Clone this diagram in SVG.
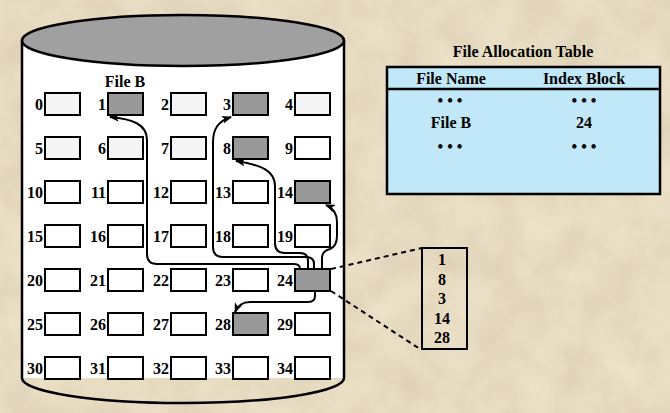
<svg xmlns="http://www.w3.org/2000/svg" width="670" height="413" viewBox="0 0 670 413">
<style>
.t{font-family:"Liberation Serif","Times New Roman",serif;font-weight:bold;font-size:16px;fill:#000}
.lbl{text-anchor:end}
.c{text-anchor:middle}
.blk{stroke:#000;stroke-width:2;fill:#fff}
.lt{fill:#f5f5f5}
.g{fill:#999}
.con{fill:none;stroke:#000;stroke-width:2;marker-end:url(#ah)}
.dash{fill:none;stroke:#000;stroke-width:2;stroke-dasharray:5 4}
</style>
<defs>
<marker id="ah" markerUnits="userSpaceOnUse" markerWidth="10" markerHeight="8" refX="9" refY="4" orient="auto">
<path d="M0,0 L10,4 L0,8 L2.5,4 z" fill="#000"/>
</marker>
<filter id="paper" x="0" y="0" width="100%" height="100%">
<feTurbulence type="fractalNoise" baseFrequency="0.025" numOctaves="4" seed="3" result="n"/>
<feColorMatrix in="n" type="matrix" values="0 0 0 0 0.55  0 0 0 0 0.45  0 0 0 0 0.3  0 0 0 0.6 -0.12" result="c"/>
<feComposite in="c" in2="SourceGraphic" operator="over"/>
</filter>
</defs>
<rect x="0" y="0" width="670" height="413" fill="#ede2c8" filter="url(#paper)"/>

<g id="disk">
<rect x="22" y="40" width="322" height="338" fill="#fff"/>
<path d="M22,40 V378 A161,25 0 0 0 344,378 V40" fill="none" stroke="#000" stroke-width="2.5"/>
<ellipse cx="183" cy="40.5" rx="161" ry="25.5" fill="#a0a0a0" stroke="#000" stroke-width="2.5"/>
</g>

<text id="fileb-label" class="t c" x="125" y="87">File B</text>

<g id="blocks">
<g id="b0"><rect class="blk lt" x="45" y="93" width="35" height="22"/><text class="t lbl" x="43" y="110">0</text></g>
<g id="b1"><rect class="blk g" x="108" y="93" width="35" height="22"/><text class="t lbl" x="106" y="110">1</text></g>
<g id="b2"><rect class="blk lt" x="171" y="93" width="35" height="22"/><text class="t lbl" x="169" y="110">2</text></g>
<g id="b3"><rect class="blk g" x="233" y="93" width="35" height="22"/><text class="t lbl" x="231" y="110">3</text></g>
<g id="b4"><rect class="blk lt" x="295" y="93" width="35" height="22"/><text class="t lbl" x="293" y="110">4</text></g>

<g id="b5"><rect class="blk lt" x="45" y="137" width="35" height="22"/><text class="t lbl" x="43" y="154">5</text></g>
<g id="b6"><rect class="blk lt" x="108" y="137" width="35" height="22"/><text class="t lbl" x="106" y="154">6</text></g>
<g id="b7"><rect class="blk lt" x="171" y="137" width="35" height="22"/><text class="t lbl" x="169" y="154">7</text></g>
<g id="b8"><rect class="blk g" x="233" y="137" width="35" height="22"/><text class="t lbl" x="231" y="154">8</text></g>
<g id="b9"><rect class="blk" x="295" y="137" width="35" height="22"/><text class="t lbl" x="293" y="154">9</text></g>

<g id="b10"><rect class="blk" x="45" y="181" width="35" height="22"/><text class="t lbl" x="43" y="198">10</text></g>
<g id="b11"><rect class="blk" x="108" y="181" width="35" height="22"/><text class="t lbl" x="106" y="198">11</text></g>
<g id="b12"><rect class="blk" x="171" y="181" width="35" height="22"/><text class="t lbl" x="169" y="198">12</text></g>
<g id="b13"><rect class="blk" x="233" y="181" width="35" height="22"/><text class="t lbl" x="231" y="198">13</text></g>
<g id="b14"><rect class="blk g" x="295" y="181" width="35" height="22"/><text class="t lbl" x="293" y="198">14</text></g>

<g id="b15"><rect class="blk" x="45" y="225" width="35" height="22"/><text class="t lbl" x="43" y="242">15</text></g>
<g id="b16"><rect class="blk" x="108" y="225" width="35" height="22"/><text class="t lbl" x="106" y="242">16</text></g>
<g id="b17"><rect class="blk" x="171" y="225" width="35" height="22"/><text class="t lbl" x="169" y="242">17</text></g>
<g id="b18"><rect class="blk" x="233" y="225" width="35" height="22"/><text class="t lbl" x="231" y="242">18</text></g>
<g id="b19"><rect class="blk" x="295" y="225" width="35" height="22"/><text class="t lbl" x="293" y="242">19</text></g>

<g id="b20"><rect class="blk" x="45" y="269" width="35" height="22"/><text class="t lbl" x="43" y="286">20</text></g>
<g id="b21"><rect class="blk" x="108" y="269" width="35" height="22"/><text class="t lbl" x="106" y="286">21</text></g>
<g id="b22"><rect class="blk" x="171" y="269" width="35" height="22"/><text class="t lbl" x="169" y="286">22</text></g>
<g id="b23"><rect class="blk" x="233" y="269" width="35" height="22"/><text class="t lbl" x="231" y="286">23</text></g>
<g id="b24"><rect class="blk g" x="295" y="269" width="35" height="22"/><text class="t lbl" x="293" y="286">24</text></g>

<g id="b25"><rect class="blk" x="45" y="313" width="35" height="22"/><text class="t lbl" x="43" y="330">25</text></g>
<g id="b26"><rect class="blk" x="108" y="313" width="35" height="22"/><text class="t lbl" x="106" y="330">26</text></g>
<g id="b27"><rect class="blk" x="171" y="313" width="35" height="22"/><text class="t lbl" x="169" y="330">27</text></g>
<g id="b28"><rect class="blk g" x="233" y="313" width="35" height="22"/><text class="t lbl" x="231" y="330">28</text></g>
<g id="b29"><rect class="blk" x="295" y="313" width="35" height="22"/><text class="t lbl" x="293" y="330">29</text></g>

<g id="b30"><rect class="blk" x="45" y="357" width="35" height="22"/><text class="t lbl" x="43" y="374">30</text></g>
<g id="b31"><rect class="blk" x="108" y="357" width="35" height="22"/><text class="t lbl" x="106" y="374">31</text></g>
<g id="b32"><rect class="blk" x="171" y="357" width="35" height="22"/><text class="t lbl" x="169" y="374">32</text></g>
<g id="b33"><rect class="blk" x="233" y="357" width="35" height="22"/><text class="t lbl" x="231" y="374">33</text></g>
<g id="b34"><rect class="blk" x="295" y="357" width="35" height="22"/><text class="t lbl" x="293" y="374">34</text></g>
</g>

<g id="connectors">
<path class="con" d="M300,269 Q300,264 294,264 H157 Q147,264 147,254 V140 C147,124 132,119 110,117"/>
<path class="con" d="M314,269 V264 Q314,257 306,257 H223 Q213,257 213,247 V142 C213,128 219,121 231,117"/>
<path class="con" d="M308,269 V261 Q308,253 300,253 H285 Q275,253 275,243 V186 C275,171 262,165 236,161"/>
<path class="con" d="M322,269 V258 Q322,251 330,249 Q337,246 337,236 V222 C337,213 333,208 326,205"/>
<path class="con" d="M315,291 V296 Q315,302 308,302 H250 C243,302 238,305 235,312"/>
<path class="dash" d="M331,269 L422,248"/>
<path class="dash" d="M331,291 L420,349"/>
</g>

<g id="index-block">
<rect x="422" y="248" width="45" height="101" fill="none" stroke="#000" stroke-width="2"/>
<text class="t c" x="442" y="265">1</text>
<text class="t c" x="442" y="284.5">8</text>
<text class="t c" x="442" y="304">3</text>
<text class="t c" x="442" y="323.5">14</text>
<text class="t c" x="442" y="343">28</text>
</g>

<g id="fat">
<text class="t c" x="523" y="57">File Allocation Table</text>
<rect x="387" y="67" width="273" height="127" fill="#c0e8f8" stroke="#000" stroke-width="2.5"/>
<line x1="387" y1="89" x2="660" y2="89" stroke="#000" stroke-width="2.5"/>
<text class="t c" x="451" y="84">File Name</text>
<text class="t c" x="584" y="84">Index Block</text>
<text class="t c" x="450" y="106">• • •</text>
<text class="t c" x="584" y="106">• • •</text>
<text class="t c" x="451" y="128">File B</text>
<text class="t c" x="584" y="128">24</text>
<text class="t c" x="450" y="152">• • •</text>
<text class="t c" x="584" y="152">• • •</text>
</g>
</svg>
